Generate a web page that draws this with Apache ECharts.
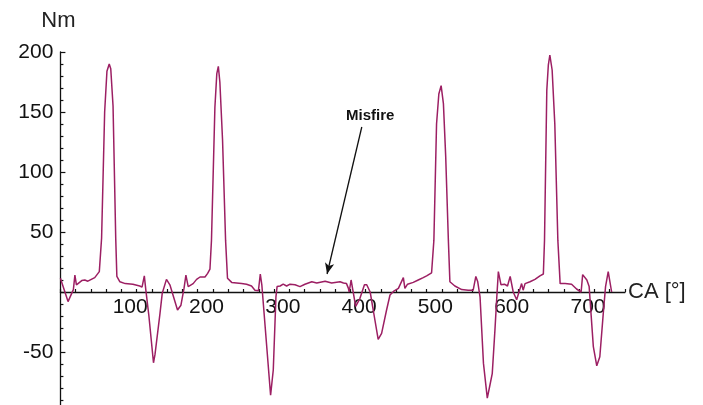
<!DOCTYPE html>
<html>
<head>
<meta charset="utf-8">
<script src="https://cdn.jsdelivr.net/npm/echarts@6/dist/echarts.min.js"></script>
<style>
html,body{margin:0;padding:0;background:#fff;}
#chart{width:703px;height:405px;}
</style>
</head>
<body>
<div id="chart"></div>
<script>
// Crank angle [deg] and torque [Nm]
const crankAngle = [0,10,17,19,21,28,32,36,45,51,54,58,61,64,66,69,72.5,74,78,85,95,104,107,110,112,116,122,124,130.5,133.5,139,143.5,153.5,158,162,164.5,167.5,174,178.5,183,189.5,193,196,198,202.5,205,207,209,212.5,216.5,219,224.5,237.5,244,250.5,255,259.5,262,264,275.5,279,282.5,284,288,292,296.5,301,307.5,314,320.5,329.5,336,347,355.5,366.5,371,375,377.5,378.5,381,387,392.5,398.5,401.5,406,410,416.5,421,427.5,432,436.5,443,449.5,451.5,455,462.5,469,475.5,480,486.5,489.5,493,496,499,502,505,508.5,510.5,517,526,534.5,541,544.5,547,550,554.5,559.5,563,566,569.5,572,574,577.5,582,586,589.5,593.5,598,602.5,604.5,606.5,609,615.5,622,628.5,633,634.5,637.5,639.5,641.5,644.5,648,652,655,661.5,670,676.5,682.5,684.5,690,693,698.5,703,707,711.5,714.5,718,722.5];
const torque = [11.5,-8,2,14,6,9.5,10,9,12,17,45,150,184,190,186,155,45,13,8.5,7,6.5,5,4,13.5,1.5,-20,-59,-52,-18,-1,10.5,6,-15,-11,3,14,4.5,7,10.5,12.5,12.5,15.5,19,43,154,182,188,175,127,43,11.5,8,7,6.5,5,1.5,1,15,6,-86,-65,-4,4.5,5,6.5,5,6.5,6,4.5,6.5,8.5,7.5,9,7.5,8.5,7.5,7,3,0,10,-12,-5.5,6,6,0,-15,-39.5,-34.5,-15,-2.5,0.5,3,12,3,6.5,8,10,12,13.5,16,43,140,165,172,157,113,43,8.5,5,2,1.5,1.5,13,8.5,-4,-59.5,-88.5,-77.5,-68,-32,-4,17,6,6.5,5,13,0,-6.5,3,7,1.5,7,8.5,10.5,13.5,15,43,168,189,197.5,185,140,43,7,7,6.5,2.5,0,14.5,10,4.5,-45.5,-61.5,-54,-18,4.5,17,0];

const xTickLabels = [100,200,300,400,500,600,700];
const yTickLabels = [-50,50,100,150,200];
const xName = 'CA [°]';
const yName = 'Nm';

const misfireText = 'Misfire';
const misfireLabelAt = [406, 147];
const misfireArrowFrom = [395, 137.5];
const misfireArrowTo = [349.5, 15];

const seriesData = crankAngle.map((x, i) => [x, torque[i]]);
const FONT = '"Liberation Sans", Helvetica, Arial, sans-serif';

const Y_MIN = -100, Y_MAX = 200;
const GRID_TOP = 52, GRID_H = 360;
const zeroOffset = GRID_H * (0 - Y_MIN) / (Y_MAX - Y_MIN);

const chart = echarts.init(document.getElementById('chart'), null, {renderer: 'canvas'});
chart.setOption({
  animation: false,
  backgroundColor: '#ffffff',
  grid: {left: 60.4, top: GRID_TOP, width: 564.6, height: GRID_H, containLabel: false, outerBoundsMode: 'none'},
  xAxis: {
    type: 'value', min: 0, max: 740, interval: 20,
    position: 'bottom', offset: -zeroOffset,
    name: xName, nameLocation: 'end', nameGap: 3,
    nameTextStyle: {fontFamily: FONT, fontSize: 22, color: '#222'},
    axisLine: {onZero: false, lineStyle: {color: '#111', width: 1.3}},
    axisTick: {show: true, inside: true, length: 3, lineStyle: {color: '#111', width: 1.2}},
    axisLabel: {
      show: true, interval: 0, margin: 5, fontFamily: FONT, fontSize: 21, color: '#111',
      padding: [0, 13, 0, 0],
      formatter: v => xTickLabels.indexOf(v) >= 0 ? String(v) : ''
    },
    splitLine: {show: false}
  },
  yAxis: {
    type: 'value', min: Y_MIN, max: Y_MAX, interval: 50,
    name: yName, nameLocation: 'end', nameGap: 20,
    nameTextStyle: {fontFamily: FONT, fontSize: 22, color: '#222', padding: [0, 4, 0, 0]},
    axisLine: {onZero: false, lineStyle: {color: '#111', width: 1.3}},
    axisTick: {show: true, inside: true, length: 5, lineStyle: {color: '#111', width: 1.2}},
    minorTick: {show: true, splitNumber: 5, length: 3, lineStyle: {color: '#111', width: 1.2}},
    axisLabel: {
      show: true, margin: 7, fontFamily: FONT, fontSize: 21, color: '#111',
      formatter: v => yTickLabels.indexOf(v) >= 0 ? String(v) : ''
    },
    splitLine: {show: false}
  },
  series: [{
    type: 'line',
    data: seriesData,
    showSymbol: false,
    symbol: 'none',
    sampling: null,
    lineStyle: {color: '#9c1f63', width: 1.5},
    z: 3,
    markLine: {
      silent: true,
      symbol: ['none', 'arrow'],
      symbolSize: [7, 11],
      label: {show: false},
      lineStyle: {color: '#111', width: 1.3, type: 'solid'},
      data: [[{coord: misfireArrowFrom}, {coord: misfireArrowTo}]]
    },
    markPoint: {
      silent: true,
      symbol: 'circle',
      symbolSize: 1,
      itemStyle: {color: 'rgba(0,0,0,0)'},
      label: {show: true, position: 'inside', formatter: misfireText,
        fontFamily: FONT, fontSize: 15, fontWeight: 'bold', color: '#111'},
      data: [{coord: misfireLabelAt}]
    }
  }]
});
</script>
</body>
</html>
